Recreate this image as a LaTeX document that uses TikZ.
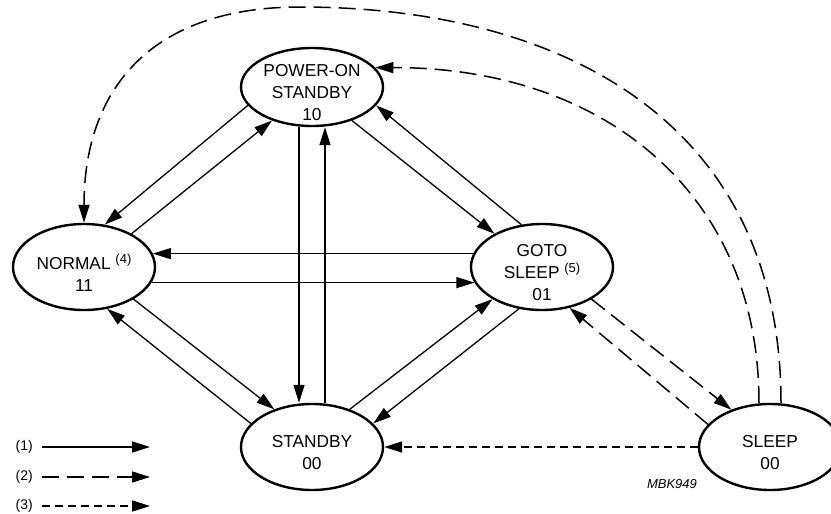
\documentclass[tikz,border=0pt]{standalone}
\usepackage{fontspec}
\setmainfont{Liberation Sans}
\usetikzlibrary{arrows.meta,shapes.geometric}

\def\statefont{\fontsize{17.3}{22}\selectfont}
\def\keyfont{\fontsize{14}{14}\selectfont}
\def\note#1{\raisebox{6pt}{\fontsize{13}{13}\selectfont(#1)}}

\begin{document}
\begin{tikzpicture}[x=1pt, y=-1pt,
    pstate/.style={draw, ellipse, line width=2.4pt, minimum width=142pt, minimum height=86pt, inner sep=0pt},
    statetext/.style={align=center, font=\statefont, inner sep=0pt},
    keytext/.style={font=\keyfont, inner sep=0pt, anchor=east},
    flow/.style={line width=1.3pt, -{Triangle[length=18pt, width=11pt]}},
    longdash/.style={flow, line width=1.5pt, dash pattern=on 17pt off 8pt},
    shortdash/.style={flow, line width=1.5pt, dash pattern=on 7.5pt off 5.5pt}]
      \useasboundingbox (0,0) rectangle (831,514);
      \node[pstate, minimum height=78pt] (pos) at (312, 87) {};
      \node[pstate] (nrm) at (84, 267) {};
      \node[pstate] (gts) at (542, 267) {};
      \node[pstate] (sby) at (312, 447) {};
      \node[pstate] (slp) at (770, 447) {};
      \node[statetext] (pos-t) at ([yshift=-6pt]pos.center) {POWER-ON\\STANDBY\\10};
      \node[statetext] (nrm-t) at ([yshift=-6pt]nrm.center) {NORMAL \note{4}\\11};
      \node[statetext] (gts-t) at ([yshift=-6pt]gts.center) {GOTO\\SLEEP \note{5}\\01};
      \node[statetext] (sby-t) at ([yshift=-6pt]sby.center) {STANDBY\\00};
      \node[statetext] (slp-t) at ([yshift=-6pt]slp.center) {SLEEP\\00};
      \draw[flow] (pos.196) -- (nrm.64);
      \draw[flow] (nrm.35) -- (pos.220);
      \draw[flow] (pos.320) -- (gts.145);
      \draw[flow] (gts.116) -- (pos.344);
      \draw[flow] (gts.169) -- (nrm.11);
      \draw[flow] (nrm.347) -- (gts.193);
      \draw[flow] (nrm.327) -- (sby.135);
      \draw[flow] (sby.159) -- (nrm.299);
      \draw[flow] (sby.45) -- (gts.213);
      \draw[flow] (gts.241) -- (sby.21);
      \draw[flow] ([xshift=-13pt]pos.south) -- ([xshift=-13pt]sby.north);
      \draw[flow] ([xshift=13pt]sby.north) -- ([xshift=13pt]pos.south);
      \draw[longdash] ([xshift=11pt]slp.north) .. controls (781, 120) and (560, 7) .. (300, 7)
          .. controls (150, 7) and (84, 90) .. (nrm.north);
      \draw[longdash] ([xshift=-11pt]slp.north) .. controls (759, 190) and (600, 67) .. (pos.17);
      \draw[longdash] (gts.327) -- (slp.136);
      \draw[longdash] (slp.160) -- (gts.304);
      \draw[shortdash] (slp.west) -- (sby.east);
      \node[keytext] (key1) at (33, 447) {(1)};
      \node[keytext] (key2) at (33, 477) {(2)};
      \node[keytext] (key3) at (33, 506) {(3)};
      \coordinate (key1-end) at (150, 447);
      \coordinate (key2-end) at (150, 477);
      \coordinate (key3-end) at (150, 506);
      \draw[flow, line width=1.5pt] ([xshift=9pt]key1.east) -- (key1-end);
      \draw[longdash] ([xshift=9pt]key2.east) -- (key2-end);
      \draw[shortdash] ([xshift=9pt]key3.east) -- (key3-end);
      \node[font=\fontsize{13}{13}\selectfont\itshape] (code) at (672, 484) {MBK949};
    \end{tikzpicture}
\end{document}
